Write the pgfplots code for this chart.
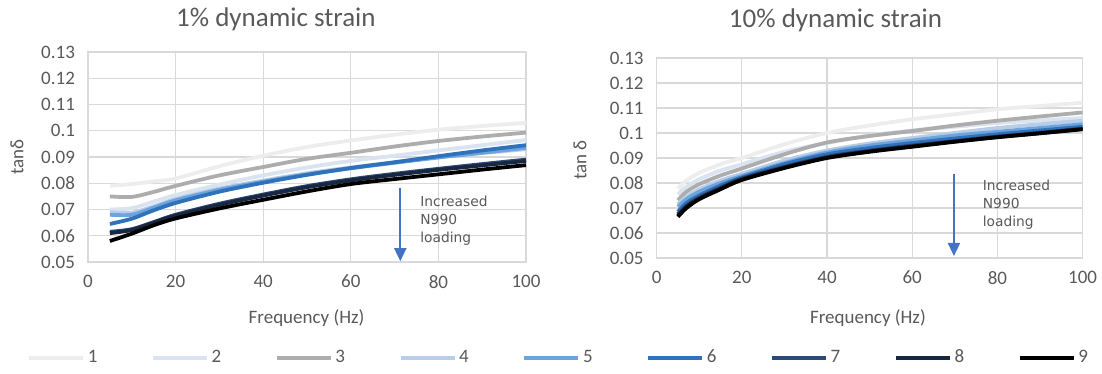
\documentclass[border=0pt]{standalone}
\usepackage{pgfplots}
\pgfplotsset{compat=1.18}
\usepackage{pgfplotstable}
\usetikzlibrary{arrows.meta}
\usepackage{fontspec}
\setmainfont{Carlito}
\newfontfamily\annfont{DejaVu Sans}
\definecolor{txtgray}{HTML}{595959}
\definecolor{gridgray}{HTML}{D9D9D9}
\definecolor{arrowblue}{HTML}{4472C4}
\definecolor{cA}{HTML}{EDEDED}
\definecolor{cB}{HTML}{DAE3F0}
\definecolor{cC}{HTML}{ADADAD}
\definecolor{cD}{HTML}{B7CDE8}
\definecolor{cE}{HTML}{6FA3DC}
\definecolor{cF}{HTML}{2E72BC}
\definecolor{cG}{HTML}{2A4A7A}
\definecolor{cH}{HTML}{1A2740}
\definecolor{cI}{HTML}{000000}

% 1% dynamic strain
\pgfplotstableread{
f     s1     s2     s3     s4     s5     s6     s7     s8     s9
5     0.0790 0.0700 0.0750 0.0690 0.0680 0.0645 0.0615 0.0610 0.0580
10    0.0797 0.0705 0.0748 0.0688 0.0680 0.0665 0.0625 0.0622 0.0608
15    0.0807 0.0730 0.0767 0.0712 0.0707 0.0697 0.0652 0.0650 0.0640
20    0.0818 0.0755 0.0790 0.0740 0.0735 0.0725 0.0680 0.0677 0.0666
30    0.0865 0.0795 0.0830 0.0780 0.0775 0.0768 0.0722 0.0718 0.0704
40    0.0905 0.0830 0.0862 0.0810 0.0806 0.0802 0.0757 0.0753 0.0737
50    0.0938 0.0860 0.0893 0.0838 0.0834 0.0832 0.0789 0.0785 0.0769
60    0.0963 0.0885 0.0916 0.0860 0.0857 0.0858 0.0815 0.0811 0.0797
70    0.0985 0.0905 0.0940 0.0880 0.0878 0.0880 0.0836 0.0832 0.0816
80    0.1004 0.0925 0.0961 0.0900 0.0898 0.0903 0.0855 0.0851 0.0834
90    0.1018 0.0945 0.0978 0.0915 0.0916 0.0925 0.0873 0.0868 0.0852
100   0.1030 0.0965 0.0993 0.0930 0.0935 0.0945 0.0890 0.0885 0.0869
}\lowstrain

% 10% dynamic strain
\pgfplotstableread{
f     s1     s2     s3     s4     s5     s6     s7     s8     s9
5     0.0778 0.0755 0.0731 0.0715 0.0705 0.0685 0.0675 0.0670 0.0665
7     0.0810 0.0785 0.0765 0.0745 0.0735 0.0720 0.0710 0.0705 0.0700
10    0.0840 0.0815 0.0795 0.0775 0.0765 0.0750 0.0742 0.0738 0.0735
15    0.0875 0.0850 0.0830 0.0810 0.0800 0.0790 0.0782 0.0778 0.0775
20    0.0900 0.0875 0.0858 0.0837 0.0828 0.0822 0.0818 0.0815 0.0812
30    0.0955 0.0925 0.0915 0.0890 0.0880 0.0875 0.0865 0.0862 0.0860
40    0.1000 0.0960 0.0962 0.0930 0.0922 0.0915 0.0905 0.0902 0.0900
50    0.1030 0.0990 0.0988 0.0958 0.0950 0.0940 0.0930 0.0927 0.0925
60    0.1055 0.1010 0.1008 0.0980 0.0970 0.0960 0.0950 0.0947 0.0945
70    0.1075 0.1025 0.1030 0.1000 0.0990 0.0978 0.0968 0.0966 0.0965
80    0.1095 0.1040 0.1049 0.1020 0.1005 0.0995 0.0986 0.0984 0.0983
90    0.1108 0.1050 0.1066 0.1035 0.1020 0.1010 0.1001 0.0999 0.0999
100   0.1121 0.1060 0.1082 0.1049 0.1035 0.1025 0.1018 0.1016 0.1015
}\highstrain

\pgfplotsset{
  tanstyle/.style={
    scale only axis,
    xmin=0, xmax=100, ymin=0.05, ymax=0.13,
    xtick={0,20,40,60,80,100},
    xticklabels={0,20,40,60,80,100},
    ytick={0.05,0.06,0.07,0.08,0.09,0.1,0.11,0.12,0.13},
    yticklabels={0.05,0.06,0.07,0.08,0.09,0.1,0.11,0.12,0.13},
    grid=major,
    major grid style={draw=gridgray, line width=0.6pt},
    axis line style={draw=gridgray, line width=0.6pt},
    tick style={draw=none},
    ticklabel style={font=\fontsize{9.5}{11}\selectfont, text=txtgray},
    xticklabel style={yshift=-3pt},
    yticklabel style={xshift=-3pt},
    label style={font=\fontsize{9.5}{11}\selectfont, text=txtgray},
    title style={font=\fontsize{13.5}{15}\selectfont, text=txtgray, anchor=center, yshift=-6pt},
    every axis plot/.append style={line width=1.9pt, smooth, no markers},
    cycle list={{cA},{cB},{cC},{cD},{cE},{cF},{cG},{cH},{cI}},
    legend image code/.code={\draw[#1, line width=1.6pt] (0pt,0pt) -- (27pt,0pt);},
  }
}

\begin{document}
\begin{tikzpicture}
\useasboundingbox (0,0) rectangle (551pt,187pt);

\begin{axis}[tanstyle,
  at={(44pt,56pt)}, anchor=south west,
  width=219pt, height=105pt,
  title={1\% dynamic strain},
  title style={at={(axis description cs:0.429,1.158)}},
  xlabel={Frequency (Hz)},
  xlabel style={at={(axis description cs:0.499,-0.267)}, anchor=center},
  ylabel={tanδ},
  ylabel style={at={(axis description cs:-0.162,0.5)}, anchor=center},
  legend columns=9,
  legend style={at={(axis description cs:1.076,-0.457)}, anchor=center, draw=none,
    fill=none, font=\fontsize{9.5}{11}\selectfont, text=txtgray,
    /tikz/every even column/.append style={column sep=25.5pt},
    nodes={inner xsep=1.5pt}},
]
\addplot table[x=f, y=s1] {\lowstrain};
\addplot table[x=f, y=s2] {\lowstrain};
\addplot table[x=f, y=s3] {\lowstrain};
\addplot table[x=f, y=s4] {\lowstrain};
\addplot table[x=f, y=s5] {\lowstrain};
\addplot table[x=f, y=s6] {\lowstrain};
\addplot table[x=f, y=s7] {\lowstrain};
\addplot table[x=f, y=s8] {\lowstrain};
\addplot table[x=f, y=s9] {\lowstrain};
\legend{1,2,3,4,5,6,7,8,9}
\draw[-{Triangle[width=6pt,length=6.5pt]}, arrowblue, line width=0.9pt]
  (axis cs:71.3,0.0781) -- (axis cs:71.3,0.0503);
\node[anchor=north west, align=left, inner sep=0pt, text=txtgray,
  font=\annfont\fontsize{6.9}{8.9}\selectfont] at (axis cs:75.8,0.0752)
  {Increased\\N990\\loading};
\end{axis}

\begin{axis}[tanstyle,
  at={(328.3pt,58pt)}, anchor=south west,
  width=213pt, height=100pt,
  title={10\% dynamic strain},
  title style={at={(axis description cs:0.42,1.19)}},
  xlabel={Frequency (Hz)},
  xlabel style={at={(axis description cs:0.496,-0.299)}, anchor=center},
  ylabel={tan δ},
  ylabel style={at={(axis description cs:-0.18,0.49)}, anchor=center},
]
\addplot table[x=f, y=s1] {\highstrain};
\addplot table[x=f, y=s2] {\highstrain};
\addplot table[x=f, y=s3] {\highstrain};
\addplot table[x=f, y=s4] {\highstrain};
\addplot table[x=f, y=s5] {\highstrain};
\addplot table[x=f, y=s6] {\highstrain};
\addplot table[x=f, y=s7] {\highstrain};
\addplot table[x=f, y=s8] {\highstrain};
\addplot table[x=f, y=s9] {\highstrain};
\draw[-{Triangle[width=6pt,length=6.5pt]}, arrowblue, line width=0.9pt]
  (axis cs:69.8,0.0837) -- (axis cs:69.8,0.0508);
\node[anchor=north west, align=left, inner sep=0pt, text=txtgray,
  font=\annfont\fontsize{6.9}{8.9}\selectfont] at (axis cs:76.5,0.0813)
  {Increased\\N990\\loading};
\end{axis}
\end{tikzpicture}
\end{document}
